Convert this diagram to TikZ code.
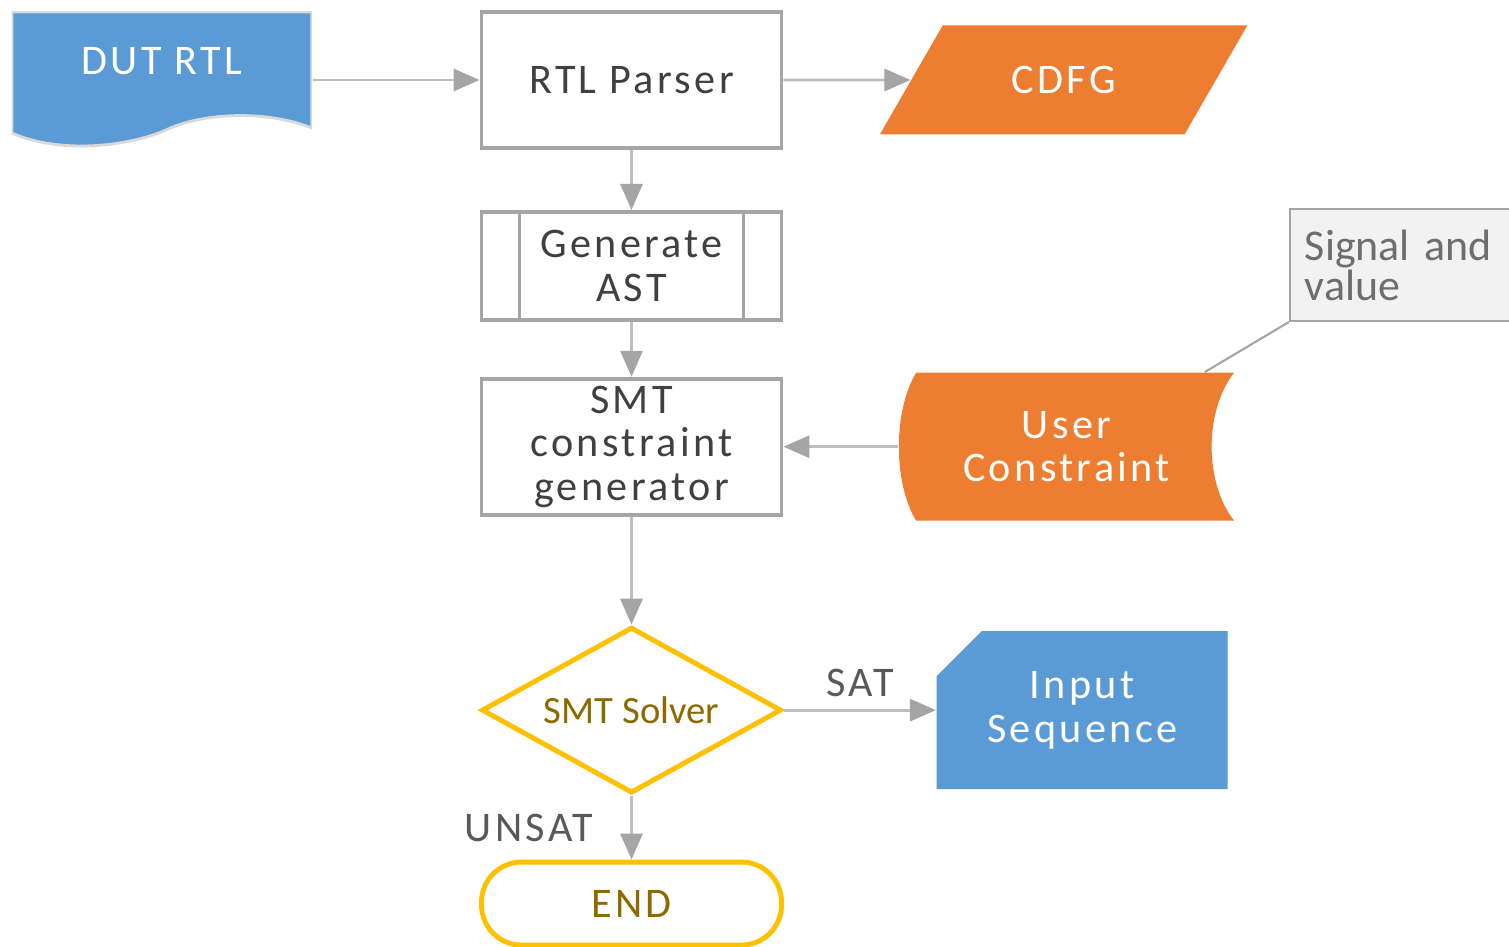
\documentclass[tikz,border=0pt]{standalone}
\usepackage{fontspec}
\newfontfamily\flowfont{Carlito}[LetterSpace=8]
\newfontfamily\notefont{Carlito}
\usepackage{tikz}
\usetikzlibrary{arrows.meta, shapes.geometric, calc, positioning}

\definecolor{docblue}{HTML}{5B9BD5}
\definecolor{dataorange}{HTML}{ED7D31}
\definecolor{solvergold}{HTML}{FFC000}
\definecolor{boxgray}{HTML}{A5A5A5}
\definecolor{linegray}{HTML}{BFBFBF}
\definecolor{textgray}{HTML}{404040}
\definecolor{goldtext}{HTML}{8C6A00}
\definecolor{notefill}{HTML}{F2F2F2}
\definecolor{notegray}{HTML}{6E6E6E}
\definecolor{labelgray}{HTML}{595959}
\definecolor{edgegray}{HTML}{D9D9D9}

\tikzset {
    boxtext/.style = {
        font = {\flowfont\fontsize{12pt}{12.4pt}\selectfont}
    },
    process/.style = {
        draw = boxgray,
        shape = rectangle,
        line width = 1.1pt,
        fill = white,
        minimum width = 3cm,
        minimum height = 1.36cm,
        inner ysep = 0.02cm,
        align = center,
        text = textgray,
        boxtext
    },
    subproc/.style = {
        process,
        minimum height = 1.08cm,
        path picture = { % the two inner bars of a predefined process
            \draw [boxgray, line width=1.1pt]
                ([xshift=0.38cm]path picture bounding box.north west) -- ([xshift=0.38cm]path picture bounding box.south west)
                ([xshift=-0.38cm]path picture bounding box.north east) -- ([xshift=-0.38cm]path picture bounding box.south east);
        }
    },
    rtldoc/.style = {
        shape = rectangle,
        fill = white,
        minimum width = 3cm,
        minimum height = 1.36cm,
        text height = 0.25cm,
        text depth = 0.36cm, % Small hack to lift the text above the wave
        text = white,
        boxtext,
        path picture = {
            \fill [docblue, draw=edgegray, line width=0.8pt]
                (path picture bounding box.north west) -- (path picture bounding box.north east)
                -- ([yshift=0.20cm]path picture bounding box.south east)
                .. controls +(-0.45, 0.18) and +(0.38, 0.19) .. ([xshift=1.52cm, yshift=0.17cm]path picture bounding box.south west)
                .. controls +(-0.42, -0.17) and +(0.45, -0.20) .. ([yshift=0.15cm]path picture bounding box.south west)
                -- cycle;
        }
    },
    dataio/.style = {
        shape = trapezium,
        trapezium left angle = 57,
        trapezium right angle = 123,
        trapezium stretches = true,
        fill = dataorange,
        minimum width = 3.68cm,
        minimum height = 1.09cm,
        text = white,
        boxtext
    },
    stored/.style = {
        shape = rectangle,
        fill = white,
        minimum width = 3.35cm,
        minimum height = 1.48cm,
        align = center,
        text = white,
        boxtext,
        path picture = {
            \fill [dataorange]
                ([xshift=0.17cm]path picture bounding box.north west) -- (path picture bounding box.north east)
                .. controls +(-0.30, -0.38) and +(-0.30, 0.38) .. (path picture bounding box.south east)
                -- ([xshift=0.17cm]path picture bounding box.south west)
                .. controls +(-0.23, 0.38) and +(-0.23, -0.38) .. ([xshift=0.17cm]path picture bounding box.north west)
                -- cycle;
        }
    },
    decision/.style = {
        draw = solvergold,
        shape = diamond,
        aspect = 1.85,
        line width = 1.4pt,
        fill = white,
        minimum width = 3cm,
        minimum height = 1.66cm,
        inner sep = 1pt,
        text = goldtext,
        font = {\notefont\fontsize{11pt}{13pt}\selectfont}
    },
    terminal/.style = {
        draw = solvergold,
        shape = rectangle,
        rounded corners = 0.4cm,
        line width = 1.4pt,
        minimum width = 3cm,
        minimum height = 0.83cm,
        text = goldtext,
        boxtext
    },
    outdata/.style = {
        shape = rectangle,
        fill = white,
        minimum width = 2.91cm,
        minimum height = 1.58cm,
        align = center,
        text = white,
        boxtext,
        path picture = { % snipped top left corner
            \fill [docblue]
                ([xshift=0.45cm]path picture bounding box.north west) -- (path picture bounding box.north east)
                -- (path picture bounding box.south east) -- (path picture bounding box.south west)
                -- ([yshift=-0.45cm]path picture bounding box.north west) -- cycle;
        }
    },
    note/.style = {
        draw = boxgray,
        shape = rectangle,
        line width = 0.6pt,
        fill = notefill,
        text width = 1.9cm,
        inner xsep = 0.15cm,
        minimum height = 1.12cm,
        align = left,
        text = notegray,
        font = {\notefont\fontsize{12.5pt}{11.4pt}\selectfont}
    },
    edgelabel/.style = {
        text = labelgray,
        boxtext
    },
    flow/.style = {
        draw = linegray,
        line width = 0.85pt,
        -{Triangle[length=0.26cm, width=0.22cm, color=boxgray]}
    },
    noteline/.style = {
        draw = boxgray,
        line width = 0.6pt
    }
}

\begin{document}
\begin{tikzpicture}
    \useasboundingbox (0, 0) rectangle (15.09, -9.47);

    % Main column : parser, AST, constraints, solver, end
    \node [process] at (6.315, -0.80)                       (parser)    {RTL Parser};
    \node [subproc, below=0.60cm of parser]                 (ast)       {Generate\\AST};
    \node [process, below=0.55cm of ast]                    (smt)       {SMT\\constraint\\generator};
    \node [decision, below=1.08cm of smt]                   (solver)    {SMT Solver};
    \node [terminal, below=0.64cm of solver]                (finish)    {END};

    % Side nodes : design, CDFG, user constraint, note, input sequence
    \node [rtldoc, left=1.67cm of parser]                   (dut)       {DUT RTL};
    \node [dataio, right=1.27cm of parser]                  (cdfg)      {CDFG};
    \node [stored, right=1.15cm of smt]                     (ucons)     {User\\Constraint};
    \node [note, above right=0.50cm and 0.54cm of ucons]    (signal)    {Signal and\\value};
    \node [outdata, right=1.52cm of solver]                 (inseq)     {Input\\Sequence};

    \coordinate (ucons-tip) at ([xshift=-0.30cm]ucons.north east);

    \path [flow]        (dut)       --  (parser);
    \path [flow]        (parser)    --  (cdfg);
    \path [flow]        (parser)    --  (ast);
    \path [flow]        (ast)       --  (smt);
    \path [flow]        (ucons)     --  (smt);
    \path [flow]        (smt)       --  (solver);
    \path [flow]        (solver)    --  node [edgelabel, above] {SAT} (inseq);
    \path [flow]        (solver)    --  node [edgelabel, left=0.25cm] {UNSAT} (finish);
    \path [noteline]    (signal.south west) -- (ucons-tip);
\end{tikzpicture}
\end{document}
